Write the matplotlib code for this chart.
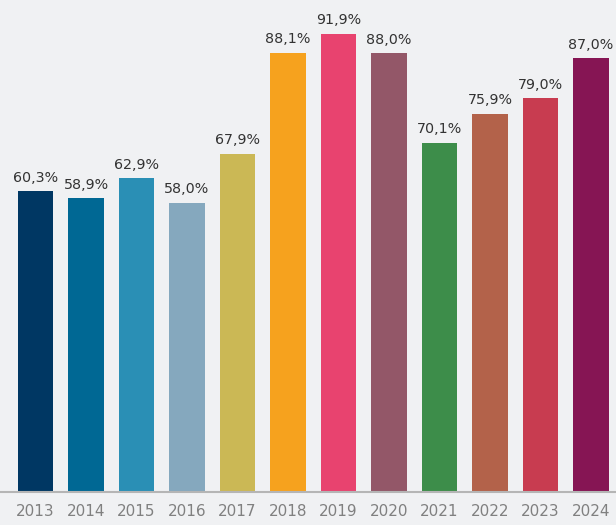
import matplotlib
matplotlib.use("Agg")
import matplotlib.pyplot as plt

years = ["2013", "2014", "2015", "2016", "2017", "2018",
         "2019", "2020", "2021", "2022", "2023", "2024"]
values = [60.3, 58.9, 62.9, 58.0, 67.9, 88.1, 91.9, 88.0, 70.1, 75.9, 79.0, 87.0]
colors = ["#003763", "#006894", "#2a8fb5", "#85a8be", "#cbb855", "#f6a21e",
          "#e8436f", "#935768", "#3d8d4a", "#b3624a", "#c83c50", "#861554"]

plt.rcParams['font.family'] = ['DejaVu Sans']
bg = "#f0f1f3"

fig = plt.figure(figsize=(6.16, 5.25), dpi=100, facecolor=bg)
ax = fig.add_axes([0, 33 / 525, 1, 1 - 33 / 525])
ax.set_facecolor(bg)

x = list(range(len(years)))
bars = ax.bar(x, values, width=0.7, color=colors)

for xi, v in zip(x, values):
    ax.text(xi, v + 1.3, f"{v:.1f}%".replace(".", ","), ha="center", va="bottom",
            fontsize=10.3, color="#333333")

ax.set_xlim(-0.703, 11.495)
ax.set_ylim(0, 98.7)
ax.set_xticks(x)
ax.set_xticklabels(years, fontsize=11, color="#808080")
ax.tick_params(axis="x", length=0, pad=8.5)
ax.set_yticks([])
for side in ["top", "left", "right"]:
    ax.spines[side].set_visible(False)
ax.spines["bottom"].set_color("#b5b5b5")
ax.spines["bottom"].set_linewidth(1.5)

fig.savefig("out.png", dpi=100, facecolor=bg)
